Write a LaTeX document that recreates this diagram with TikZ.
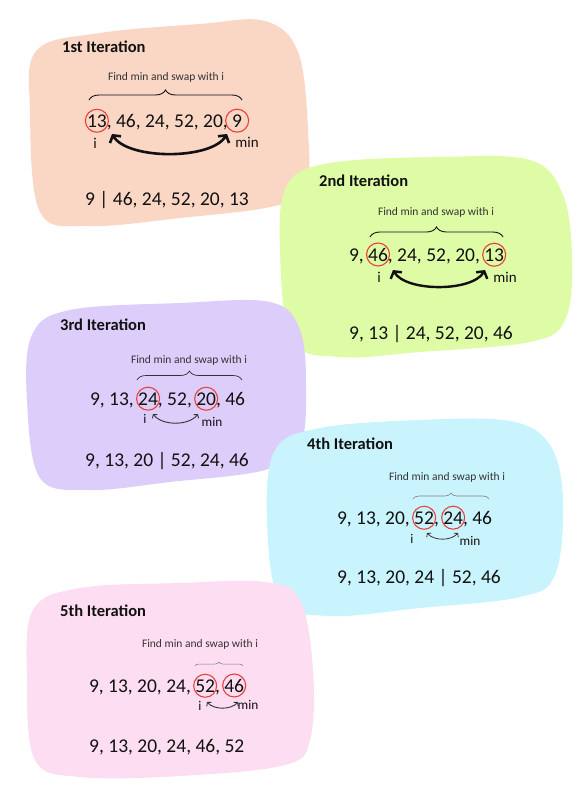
\documentclass[tikz,border=0pt]{standalone}
\usepackage{fontspec}
\setmainfont{Carlito}
\usetikzlibrary{decorations.pathreplacing,arrows.meta}
\definecolor{bA}{HTML}{FAD6C5}
\definecolor{bB}{HTML}{DEFBA6}
\definecolor{bC}{HTML}{DDCDFA}
\definecolor{bD}{HTML}{C9F4FD}
\definecolor{bE}{HTML}{FDDDF1}
\definecolor{ringred}{HTML}{E8413A}
\definecolor{ink}{HTML}{111111}
\definecolor{fmgrey}{HTML}{333333}
\newcommand{\tsp}{\ \null}
\begin{document}
\begin{tikzpicture}[x=1pt,y=-1pt,
  ttl/.style={anchor=west,inner sep=0,text=ink,font=\fontsize{16.5}{20}\selectfont\bfseries},
  seg/.style={anchor=base west,inner sep=0,outer sep=0,text=ink,font=\fontsize{19.5}{23}\selectfont},
  res/.style={anchor=base west,inner sep=0,text=ink,font=\fontsize{19.5}{23}\selectfont},
  fm/.style={inner sep=0,text=fmgrey,font=\fontsize{11.5}{14}\selectfont},
  lblA/.style={anchor=base,inner sep=0,text=ink,font=\fontsize{15}{18}\selectfont},
  lblB/.style={anchor=base,inner sep=0,text=ink,font=\fontsize{13.3}{16}\selectfont},
  ring/.style={circle,draw=ringred,line width=1.1pt,minimum size=23pt,inner sep=0},
  brc/.style={decorate,decoration={brace,amplitude=#1}},
  swapA/.style={line width=2.6pt,ink,{Straight Barb[length=5pt,width=13pt]}-{Straight Barb[length=5pt,width=13pt]}},
  swapB/.style={line width=0.9pt,fmgrey,{Straight Barb[length=2.5pt,width=6pt]}-{Straight Barb[length=2.5pt,width=6pt]}}
]
\useasboundingbox (0,0) rectangle (583,793);
\fill[white] (0,0) rectangle (583,793);

% blobs
\fill[bA] plot[smooth cycle,tension=0.6] coordinates {(30,110) (37,50) (100,33) (200,24) (265,21) (298,52) (308,130) (305,190) (270,207) (180,218) (90,226) (40,212)};
\fill[bB] plot[smooth cycle,tension=0.6] coordinates {(280,250) (287,185) (330,163) (440,157) (530,160) (563,195) (572,260) (565,320) (530,342) (420,352) (340,357) (292,340)};
\fill[bC] plot[smooth cycle,tension=0.6] coordinates {(27,400) (32,335) (70,310) (180,303) (270,302) (300,330) (306,390) (300,445) (265,470) (170,482) (90,490) (40,478)};
\fill[bD] plot[smooth cycle,tension=0.6] coordinates {(267,520) (275,450) (320,428) (420,420) (510,421) (550,445) (563,500) (555,575) (520,597) (420,608) (330,616) (280,600)};
\fill[bE] plot[smooth cycle,tension=0.6] coordinates {(27,680) (33,610) (80,588) (180,583) (265,582) (300,600) (313,670) (310,740) (285,765) (180,776) (80,777) (35,760)};

% ---------- 1st iteration
\node[ttl] (t1) at (62,47) {1st Iteration};
\node[fm] (f1) at (166,77) {Find min and swap with i};
\draw[brc=10pt,line width=0.9pt,ink] (89,100) -- (242,100);
\node[seg] (l1a) at (87,127) {13};
\node[seg] (l1b) at (l1a.base east) {, 46, 24, 52, 20,\tsp};
\node[seg] (l1c) at (l1b.base east) {9};
\node[ring] (r1a) at (l1a.center) {};
\node[ring] (r1b) at (l1c.center) {};
\node[lblA] (i1) at (95,148) {i};
\node[lblA] (m1) at (247,147) {min};
\coordinate (s1a) at (112,134);
\coordinate (s1b) at (227,134);
\draw[swapA] (s1a) .. controls (128,160) and (211,160) .. (s1b);
\node[res] (o1) at (85,205) {9 | 46, 24, 52, 20, 13};

% ---------- 2nd iteration
\node[ttl] (t2) at (319,181) {2nd Iteration};
\node[fm] (f2) at (436,212) {Find min and swap with i};
\draw[brc=10pt,line width=0.9pt,ink] (370,237) -- (503,237);
\node[seg] (l2a) at (349,261) {9,\tsp};
\node[seg] (l2b) at (l2a.base east) {46};
\node[seg] (l2c) at (l2b.base east) {, 24, 52, 20,\tsp};
\node[seg] (l2d) at (l2c.base east) {13};
\node[ring] (r2a) at (l2b.center) {};
\node[ring] (r2b) at (l2d.center) {};
\node[lblA] (i2) at (379,282) {i};
\node[lblA] (m2) at (505,282) {min};
\coordinate (s2a) at (393,270);
\coordinate (s2b) at (485,270);
\draw[swapA,line width=2.4pt] (s2a) .. controls (406,292) and (472,292) .. (s2b);
\node[res] (o2) at (349,339) {9, 13 | 24, 52, 20, 46};

% ---------- 3rd iteration
\node[ttl] (t3) at (60,325) {3rd Iteration};
\node[fm] (f3) at (189,360) {Find min and swap with i};
\draw[brc=9pt,line width=0.7pt,fmgrey] (137,380) -- (242,380);
\node[seg] (l3a) at (90,405) {9, 13,\tsp};
\node[seg] (l3b) at (l3a.base east) {24};
\node[seg] (l3c) at (l3b.base east) {, 52,\tsp};
\node[seg] (l3d) at (l3c.base east) {20};
\node[seg] (l3e) at (l3d.base east) {, 46};
\node[ring] (r3a) at (l3b.center) {};
\node[ring] (r3b) at (l3d.center) {};
\node[lblB] (i3) at (145,423) {i};
\node[lblB] (m3) at (212,426) {min};
\coordinate (s3a) at (153,414);
\coordinate (s3b) at (198,414);
\draw[swapB] (s3a) .. controls (162,426) and (189,426) .. (s3b);
\node[res] (o3) at (85,466) {9, 13, 20 | 52, 24, 46};

% ---------- 4th iteration
\node[ttl] (t4) at (307,444) {4th Iteration};
\node[fm] (f4) at (447,477) {Find min and swap with i};
\draw[brc=6pt,line width=0.6pt,gray] (413,499) -- (489,499);
\node[seg] (l4a) at (337,524) {9, 13, 20,\tsp};
\node[seg] (l4b) at (l4a.base east) {52};
\node[seg] (l4c) at (l4b.base east) {,\tsp};
\node[seg] (l4d) at (l4c.base east) {24};
\node[seg] (l4e) at (l4d.base east) {, 46};
\node[ring] (r4a) at (l4b.center) {};
\node[ring] (r4b) at (l4d.center) {};
\node[lblB] (i4) at (412,543) {i};
\node[lblB] (m4) at (470,545) {min};
\coordinate (s4a) at (427,533);
\coordinate (s4b) at (458,533);
\draw[swapB,line width=0.8pt] (s4a) .. controls (434,541) and (451,541) .. (s4b);
\node[res] (o4) at (337,583) {9, 13, 20, 24 | 52, 46};

% ---------- 5th iteration
\node[ttl] (t5) at (60,611) {5th Iteration};
\node[fm] (f5) at (200,644) {Find min and swap with i};
\draw[brc=4pt,line width=0.5pt,gray] (195,666) -- (243,666);
\node[seg] (l5a) at (89,692) {9, 13, 20, 24,\tsp};
\node[seg] (l5b) at (l5a.base east) {52};
\node[seg] (l5c) at (l5b.base east) {,\tsp};
\node[seg] (l5d) at (l5c.base east) {46};
\node[ring] (r5a) at (l5b.center) {};
\node[ring] (r5b) at (l5d.center) {};
\node[lblB] (i5) at (200,710) {i};
\node[lblB] (m5) at (248,709) {min};
\coordinate (s5a) at (207,702);
\coordinate (s5b) at (238,702);
\draw[swapB] (s5a) .. controls (214,710) and (231,710) .. (s5b);
\node[res] (o5) at (89,752) {9, 13, 20, 24, 46, 52};
\end{tikzpicture}
\end{document}
